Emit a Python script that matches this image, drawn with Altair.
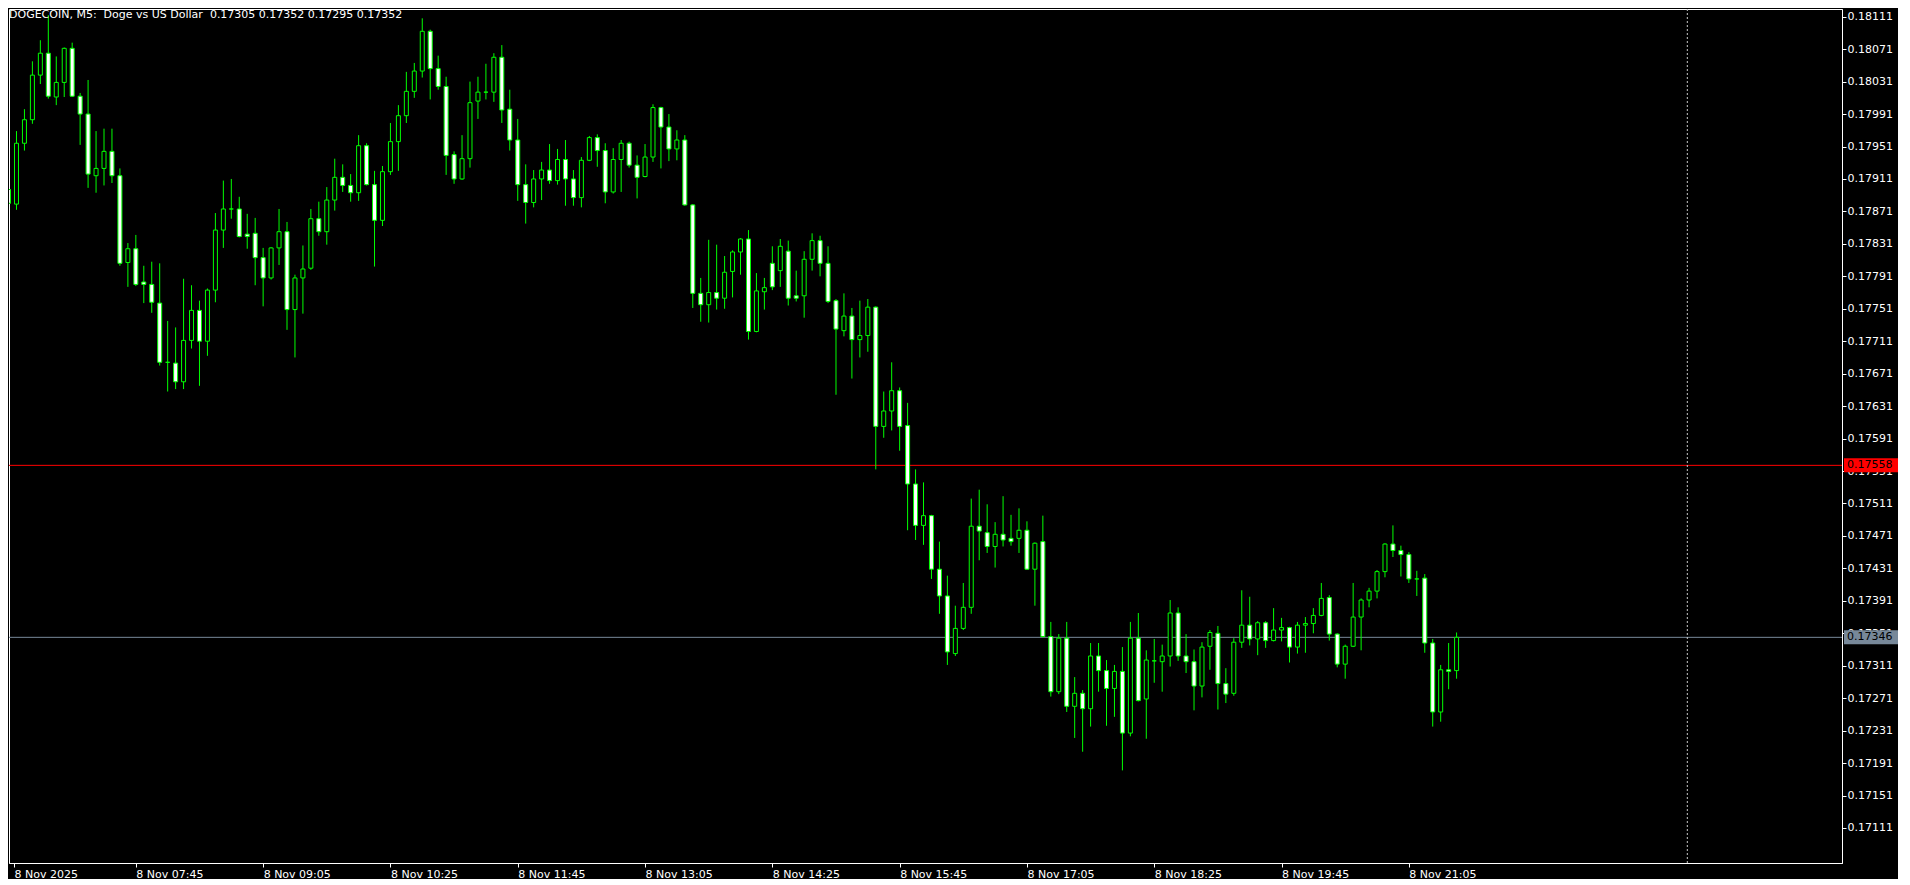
import json
import altair as alt
import pandas as pd

# ---------------- data ----------------
title_text = "DOGECOIN, M5:\u00a0 Doge vs US Dollar\u00a0 0.17305 0.17352 0.17295 0.17352"

tick_labels = ["8 Nov 2025", "8 Nov 07:45", "8 Nov 09:05", "8 Nov 10:25", "8 Nov 11:45",
               "8 Nov 13:05", "8 Nov 14:25", "8 Nov 15:45", "8 Nov 17:05", "8 Nov 18:25",
               "8 Nov 19:45", "8 Nov 21:05"]
tick_index = [0, 16, 32, 48, 64, 80, 96, 112, 128, 144, 160, 176]   # bar number of each label (5-min bars from 06:25)
price_ticks = [0.18111, 0.18071, 0.18031, 0.17991, 0.17951, 0.17911, 0.17871, 0.17831,
               0.17791, 0.17751, 0.17711, 0.17671, 0.17631, 0.17591, 0.17551, 0.17511,
               0.17471, 0.17431, 0.17391, 0.17351, 0.17311, 0.17271, 0.17231, 0.17191,
               0.17151, 0.17111]
ask_price = 0.17558
bid_price = 0.17346
separator_bar = 211   # 9 Nov 00:00

open_ = [0.17898, 0.17880, 0.17955, 0.17984, 0.18039, 0.18066, 0.18012, 0.18030, 0.18072, 0.18013,
         0.17991, 0.17915, 0.17924, 0.17945, 0.17915, 0.17808, 0.17825, 0.17784, 0.17781, 0.17758,
         0.17685, 0.17684, 0.17661, 0.17712, 0.17749, 0.17711, 0.17774, 0.17848, 0.17874, 0.17874,
         0.17843, 0.17844, 0.17814, 0.17789, 0.17826, 0.17846, 0.17750, 0.17789, 0.17801, 0.17862,
         0.17846, 0.17885, 0.17913, 0.17903, 0.17894, 0.17952, 0.17904, 0.17860, 0.17920, 0.17957,
         0.17989, 0.18019, 0.18044, 0.18093, 0.18047, 0.18025, 0.17941, 0.17911, 0.17936, 0.18007,
         0.18018, 0.18018, 0.18061, 0.17997, 0.17959, 0.17904, 0.17882, 0.17911, 0.17922, 0.17909,
         0.17935, 0.17911, 0.17888, 0.17934, 0.17962, 0.17946, 0.17895, 0.17935, 0.17955, 0.17928,
         0.17914, 0.17938, 0.17999, 0.17975, 0.17948, 0.17959, 0.17879, 0.17770, 0.17756, 0.17771,
         0.17764, 0.17797, 0.17821, 0.17837, 0.17723, 0.17772, 0.17807, 0.17798, 0.17822, 0.17767,
         0.17767, 0.17812, 0.17835, 0.17807, 0.17761, 0.17724, 0.17742, 0.17713, 0.17718, 0.17753,
         0.17606, 0.17625, 0.17650, 0.17607, 0.17535, 0.17484, 0.17496, 0.17430, 0.17397, 0.17326,
         0.17357, 0.17383, 0.17483, 0.17475, 0.17458, 0.17473, 0.17468, 0.17468, 0.17478, 0.17430,
         0.17464, 0.17347, 0.17279, 0.17345, 0.17261, 0.17277, 0.17258, 0.17323, 0.17305, 0.17283,
         0.17304, 0.17228, 0.17345, 0.17270, 0.17317, 0.17316, 0.17323, 0.17376, 0.17323, 0.17316,
         0.17286, 0.17335, 0.17351, 0.17289, 0.17277, 0.17340, 0.17361, 0.17344, 0.17364, 0.17342,
         0.17355, 0.17358, 0.17334, 0.17361, 0.17363, 0.17373, 0.17395, 0.17350, 0.17313, 0.17335,
         0.17371, 0.17392, 0.17403, 0.17427, 0.17461, 0.17453, 0.17448, 0.17418, 0.17419, 0.17339,
         0.17254, 0.17306, 0.17305]
high = [0.17902, 0.17970, 0.17997, 0.18056, 0.18082, 0.18113, 0.18062, 0.18073, 0.18079, 0.18017,
        0.18033, 0.17970, 0.17973, 0.17973, 0.17924, 0.17832, 0.17842, 0.17804, 0.17809, 0.17807,
        0.17736, 0.17728, 0.17788, 0.17780, 0.17761, 0.17776, 0.17869, 0.17909, 0.17911, 0.17889,
        0.17868, 0.17863, 0.17826, 0.17827, 0.17874, 0.17858, 0.17793, 0.17829, 0.17874, 0.17883,
        0.17901, 0.17936, 0.17929, 0.17917, 0.17965, 0.17955, 0.17921, 0.17927, 0.17980, 0.18002,
        0.18043, 0.18054, 0.18109, 0.18095, 0.18063, 0.18037, 0.17945, 0.17965, 0.18031, 0.18037,
        0.18053, 0.18066, 0.18076, 0.18021, 0.17985, 0.17929, 0.17922, 0.17932, 0.17954, 0.17948,
        0.17959, 0.17922, 0.17938, 0.17964, 0.17966, 0.17955, 0.17949, 0.17959, 0.17957, 0.17940,
        0.17954, 0.18003, 0.18000, 0.17991, 0.17971, 0.17965, 0.17880, 0.17789, 0.17836, 0.17830,
        0.17816, 0.17823, 0.17838, 0.17848, 0.17795, 0.17789, 0.17828, 0.17837, 0.17835, 0.17798,
        0.17822, 0.17844, 0.17841, 0.17828, 0.17763, 0.17770, 0.17752, 0.17761, 0.17763, 0.17754,
        0.17649, 0.17685, 0.17654, 0.17635, 0.17553, 0.17537, 0.17497, 0.17464, 0.17422, 0.17385,
        0.17413, 0.17517, 0.17528, 0.17510, 0.17488, 0.17520, 0.17497, 0.17505, 0.17489, 0.17463,
        0.17496, 0.17365, 0.17350, 0.17365, 0.17297, 0.17281, 0.17339, 0.17339, 0.17318, 0.17312,
        0.17334, 0.17365, 0.17376, 0.17330, 0.17344, 0.17337, 0.17392, 0.17383, 0.17350, 0.17331,
        0.17340, 0.17355, 0.17360, 0.17308, 0.17345, 0.17404, 0.17396, 0.17366, 0.17366, 0.17382,
        0.17370, 0.17359, 0.17365, 0.17371, 0.17382, 0.17413, 0.17398, 0.17351, 0.17337, 0.17413,
        0.17394, 0.17407, 0.17429, 0.17462, 0.17484, 0.17459, 0.17451, 0.17428, 0.17424, 0.17344,
        0.17312, 0.17339, 0.17352]
low = [0.17876, 0.17873, 0.17946, 0.17979, 0.18028, 0.18010, 0.18002, 0.18012, 0.18012, 0.17953,
       0.17900, 0.17894, 0.17903, 0.17906, 0.17804, 0.17778, 0.17779, 0.17758, 0.17746, 0.17681,
       0.17649, 0.17652, 0.17652, 0.17702, 0.17656, 0.17693, 0.17759, 0.17826, 0.17862, 0.17839,
       0.17825, 0.17780, 0.17754, 0.17787, 0.17805, 0.17725, 0.17691, 0.17745, 0.17799, 0.17841,
       0.17830, 0.17872, 0.17895, 0.17883, 0.17884, 0.17903, 0.17803, 0.17853, 0.17916, 0.17921,
       0.17980, 0.18011, 0.18036, 0.18009, 0.18021, 0.17916, 0.17905, 0.17910, 0.17925, 0.17985,
       0.18009, 0.18006, 0.17980, 0.17946, 0.17884, 0.17856, 0.17876, 0.17885, 0.17905, 0.17904,
       0.17878, 0.17878, 0.17876, 0.17933, 0.17926, 0.17881, 0.17893, 0.17895, 0.17925, 0.17887,
       0.17913, 0.17932, 0.17924, 0.17933, 0.17934, 0.17878, 0.17752, 0.17735, 0.17734, 0.17750,
       0.17751, 0.17765, 0.17793, 0.17713, 0.17722, 0.17750, 0.17774, 0.17778, 0.17755, 0.17760,
       0.17740, 0.17798, 0.17791, 0.17758, 0.17645, 0.17717, 0.17665, 0.17691, 0.17698, 0.17553,
       0.17592, 0.17601, 0.17576, 0.17478, 0.17466, 0.17460, 0.17418, 0.17375, 0.17312, 0.17323,
       0.17355, 0.17375, 0.17441, 0.17450, 0.17432, 0.17458, 0.17459, 0.17450, 0.17429, 0.17385,
       0.17346, 0.17273, 0.17276, 0.17254, 0.17222, 0.17205, 0.17236, 0.17279, 0.17237, 0.17248,
       0.17182, 0.17224, 0.17267, 0.17221, 0.17290, 0.17279, 0.17310, 0.17317, 0.17302, 0.17256,
       0.17272, 0.17306, 0.17257, 0.17265, 0.17274, 0.17333, 0.17336, 0.17324, 0.17333, 0.17341,
       0.17341, 0.17315, 0.17326, 0.17327, 0.17351, 0.17372, 0.17342, 0.17309, 0.17295, 0.17334,
       0.17330, 0.17383, 0.17394, 0.17420, 0.17445, 0.17421, 0.17413, 0.17397, 0.17327, 0.17236,
       0.17242, 0.17282, 0.17295]
close = [0.17881, 0.17955, 0.17984, 0.18039, 0.18066, 0.18013, 0.18030, 0.18072, 0.18013, 0.17991,
         0.17917, 0.17924, 0.17945, 0.17915, 0.17807, 0.17825, 0.17781, 0.17781, 0.17759, 0.17685,
         0.17685, 0.17661, 0.17712, 0.17749, 0.17711, 0.17774, 0.17848, 0.17874, 0.17874, 0.17840,
         0.17840, 0.17814, 0.17789, 0.17826, 0.17846, 0.17750, 0.17789, 0.17800, 0.17862, 0.17846,
         0.17885, 0.17913, 0.17903, 0.17894, 0.17952, 0.17904, 0.17860, 0.17920, 0.17957, 0.17989,
         0.18019, 0.18044, 0.18093, 0.18047, 0.18025, 0.17940, 0.17911, 0.17936, 0.18005, 0.18018,
         0.18018, 0.18061, 0.17996, 0.17959, 0.17904, 0.17882, 0.17911, 0.17922, 0.17909, 0.17935,
         0.17911, 0.17888, 0.17934, 0.17962, 0.17946, 0.17895, 0.17935, 0.17955, 0.17928, 0.17913,
         0.17938, 0.17999, 0.17975, 0.17948, 0.17959, 0.17879, 0.17770, 0.17756, 0.17771, 0.17764,
         0.17796, 0.17821, 0.17837, 0.17723, 0.17773, 0.17777, 0.17778, 0.17828, 0.17764, 0.17764,
         0.17812, 0.17835, 0.17807, 0.17760, 0.17726, 0.17742, 0.17713, 0.17718, 0.17753, 0.17606,
         0.17625, 0.17650, 0.17606, 0.17535, 0.17484, 0.17496, 0.17430, 0.17397, 0.17328, 0.17357,
         0.17383, 0.17483, 0.17477, 0.17458, 0.17473, 0.17466, 0.17464, 0.17478, 0.17430, 0.17462,
         0.17347, 0.17279, 0.17345, 0.17261, 0.17277, 0.17258, 0.17323, 0.17305, 0.17283, 0.17304,
         0.17228, 0.17345, 0.17268, 0.17318, 0.17317, 0.17323, 0.17376, 0.17323, 0.17316, 0.17286,
         0.17334, 0.17352, 0.17289, 0.17276, 0.17340, 0.17361, 0.17344, 0.17364, 0.17342, 0.17355,
         0.17358, 0.17334, 0.17361, 0.17363, 0.17373, 0.17394, 0.17350, 0.17313, 0.17335, 0.17371,
         0.17392, 0.17403, 0.17427, 0.17461, 0.17453, 0.17448, 0.17418, 0.17418, 0.17339, 0.17254,
         0.17306, 0.17304, 0.17346]

# ---------------- chart ----------------
df = pd.DataFrame({"bar": list(range(len(open_))), "open": open_, "high": high,
                   "low": low, "close": close})

W, H = 1833, 854
GREEN = "#00ff00"
FONT = "DejaVu Sans"
x_scale = alt.Scale(domain=[0.6875, 229.8125], nice=False, zero=False)
y_scale = alt.Scale(domain=[0.1706785, 0.1812049], nice=False, zero=False)

x_values = [0.6875] + tick_index[1:]
label_expr = json.dumps(tick_labels) + "[round(datum.value / 16)]"

x_axis = alt.Axis(values=x_values, labelExpr=label_expr, title=None, grid=False,
                  orient="bottom", labelAlign="left", labelBaseline="top", labelFlush=False,
                  labelOverlap=False, tickSize=4, labelPadding=1, tickColor="#ffffff",
                  domainColor="#ffffff", labelColor="#ffffff", labelFont=FONT, labelFontSize=11)
y_axis = alt.Axis(values=price_ticks, format=".5f", title=None, grid=False, orient="right",
                  labelFlush=False, labelOverlap=False, tickSize=4, labelPadding=1,
                  tickColor="#ffffff", domainColor="#ffffff", labelColor="#ffffff",
                  labelFont=FONT, labelFontSize=11, labelBaseline="middle")


def X(field):
    return alt.X(field, scale=x_scale, axis=x_axis)


def Y(field):
    return alt.Y(field, scale=y_scale, axis=y_axis)


base = alt.Chart(df)

wicks = base.mark_rule(color=GREEN, strokeWidth=1, clip=True).encode(
    x=X("bar:Q"), y=Y("low:Q"), y2="high:Q",
)

bodies = base.mark_bar(size=4, stroke=GREEN, strokeWidth=1, clip=True).encode(
    x=X("bar:Q"), y=Y("open:Q"), y2="close:Q",
    fill=alt.condition("datum.close < datum.open", alt.value("#ffffff"), alt.value("#000000")),
)

ask_df = pd.DataFrame({"p": [ask_price], "t": [f"{ask_price:.5f}"]})
bid_df = pd.DataFrame({"p": [bid_price], "t": [f"{bid_price:.5f}"]})
sep_df = pd.DataFrame({"bar": [separator_bar]})
title_df = pd.DataFrame({"t": [title_text]})

ask_line = alt.Chart(ask_df).mark_rule(color="#ff0000", strokeWidth=1).encode(y=Y("p:Q"))
bid_line = alt.Chart(bid_df).mark_rule(color="#778899", strokeWidth=1).encode(y=Y("p:Q"))
sep_line = alt.Chart(sep_df).mark_rule(color="#c8c8c8", strokeWidth=1, strokeDash=[2, 2]).encode(
    x=X("bar:Q"))


def price_box(d, bg):
    box = alt.Chart(d).mark_rect(color=bg, yOffset=-7, y2Offset=7).encode(
        x=alt.value(W + 2), x2=alt.value(W + 56), y=Y("p:Q"), y2="p:Q")
    txt = alt.Chart(d).mark_text(align="left", baseline="middle", font=FONT, fontSize=11,
                                 color="#000000").encode(
        x=alt.value(W + 5), y=Y("p:Q"), text="t:N")
    return box + txt


title_mark = alt.Chart(title_df).mark_text(align="left", baseline="top", font=FONT,
                                           fontSize=11, color="#ffffff").encode(
    x=alt.value(0), y=alt.value(0), text="t:N")

chart = alt.layer(
    ask_line, bid_line, sep_line, wicks, bodies,
    price_box(ask_df, "#ff0000"), price_box(bid_df, "#778899"), title_mark,
).properties(width=W, height=H, padding=0, background="#000000").configure_view(
    stroke="#ffffff", strokeWidth=1
)

chart.save("out.html", embed_options={"renderer": "svg", "actions": False})
